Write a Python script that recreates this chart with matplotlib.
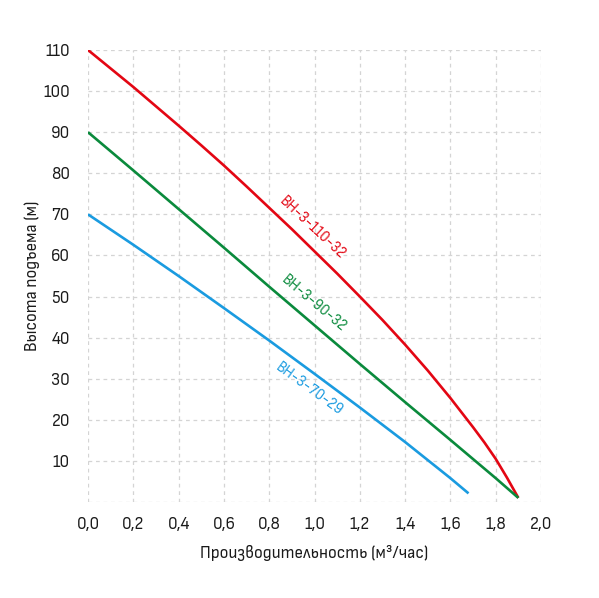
import numpy as np
import matplotlib.pyplot as plt

# flow (m3/h) and head (m)
q_110 = [0.0, 0.1, 0.2, 0.3, 0.4, 0.5, 0.6, 0.7, 0.8, 0.9, 1.0, 1.1,
         1.2, 1.3, 1.4, 1.5, 1.6, 1.7, 1.75, 1.8, 1.85, 1.9]
h_110 = [110, 105.5, 101.0, 96.3, 91.6, 86.8, 81.9, 76.8, 71.6, 66.4, 61.0, 55.6,
         50.0, 44.3, 38.3, 32.0, 25.3, 18.2, 14.5, 10.5, 5.9, 1.0]

q_90 = [0.0, 0.2, 0.4, 0.6, 0.8, 1.0, 1.2, 1.4, 1.6, 1.8, 1.9]
h_90 = [90, 80.7, 71.3, 61.9, 52.4, 43.0, 33.6, 24.3, 15.1, 5.8, 1.0]

q_70 = [0.0, 0.2, 0.4, 0.6, 0.8, 1.0, 1.2, 1.4, 1.6, 1.68]
h_70 = [70, 62.6, 55.0, 47.2, 39.3, 31.2, 23.0, 14.6, 5.8, 2.1]

names = ["ВН-3-110-32", "ВН-3-90-32", "ВН-3-70-29"]
colors = ["#e30613", "#0a8a3c", "#1a9be0"]

x_ticks = [0.0, 0.2, 0.4, 0.6, 0.8, 1.0, 1.2, 1.4, 1.6, 1.8, 2.0]
y_ticks = [0, 10, 20, 30, 40, 50, 60, 70, 80, 90, 100, 110]

plt.rcParams['font.family'] = ['Sofia Sans Semi Condensed', 'Roboto', 'DejaVu Sans']


def create_graph():
    fig = plt.figure(figsize=(5.99, 5.98), dpi=100)
    ax = fig.add_axes([88 / 599, 96 / 598, 453 / 599, 452 / 598])

    curves = [(q_110, h_110), (q_90, h_90), (q_70, h_70)]
    for (q, h), c in zip(curves, colors):
        ax.plot(q, h, color=c, lw=1.9, solid_capstyle='butt')

    # labels along the curves
    label_pos = [(0.99, 66.8, -43), (0.995, 48.2, -40), (0.975, 27.6, -36)]
    for name, c, (x, y, rot) in zip(names, colors, label_pos):
        ax.text(x, y, name, color=c, fontsize=11, fontweight=300, rotation=rot,
                ha='center', va='center', rotation_mode='anchor')

    ax.set_xlim(0, 2.0)
    ax.set_ylim(0, 110)
    ax.set_xticks(x_ticks)
    ax.set_xticklabels([f"{v:.1f}".replace(".", ",") for v in x_ticks])
    ax.set_yticks(y_ticks)
    ax.set_yticklabels(["" if v == 0 else str(v) for v in y_ticks])
    ax.tick_params(length=0, labelsize=12.5, colors="#1a1a1a")
    ax.tick_params(axis='y', pad=13)
    ax.tick_params(axis='x', pad=11)
    for lab in ax.get_xticklabels() + ax.get_yticklabels():
        lab.set_fontweight(300)
    for s in ax.spines.values():
        s.set_visible(False)
    ax.grid(True, color="#d4d4d4", ls=(0, (3, 3)), lw=0.9)
    ax.set_axisbelow(True)

    ax.set_xlabel("Производительность (м³/час)", fontsize=12.5, labelpad=9,
                  color="#1a1a1a", fontweight=300)
    ax.set_ylabel("Высота подъема (м)", fontsize=12.5, labelpad=2,
                  color="#1a1a1a", fontweight=300)
    fig.savefig("out.png", dpi=100)


def main():
    create_graph()


if __name__ == '__main__':
    main()
